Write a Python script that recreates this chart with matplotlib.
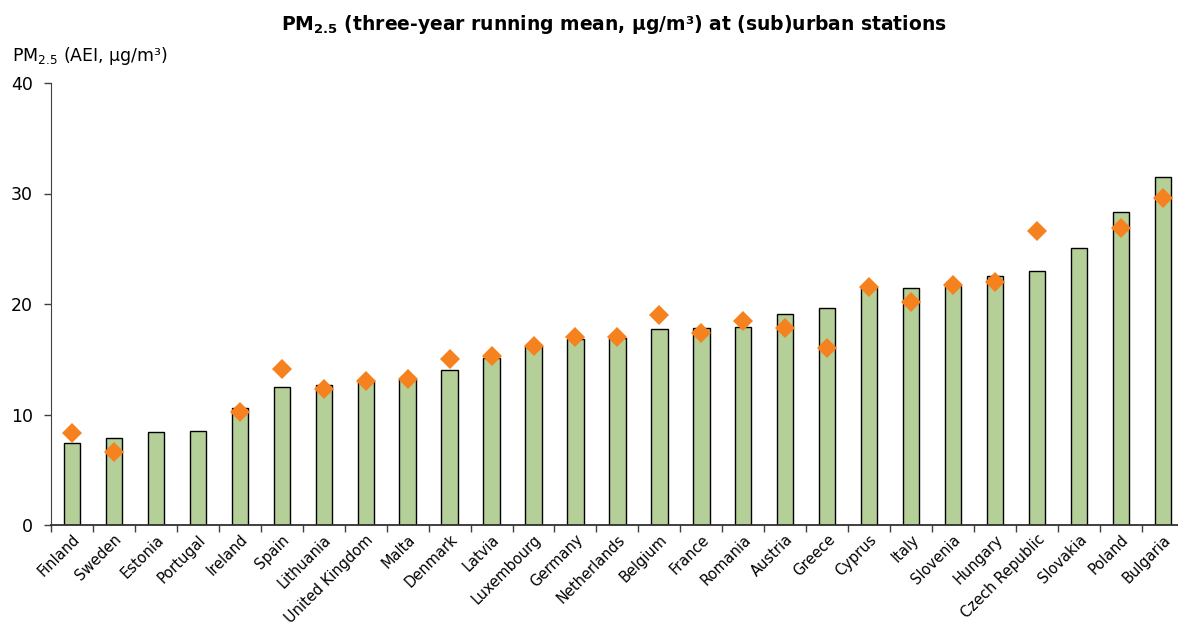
import numpy as np
import matplotlib
matplotlib.use("Agg")
import matplotlib.pyplot as plt
from matplotlib.ticker import FixedLocator

countries = ["Finland", "Sweden", "Estonia", "Portugal", "Ireland", "Spain", "Lithuania",
             "United Kingdom", "Malta", "Denmark", "Latvia", "Luxembourg", "Germany",
             "Netherlands", "Belgium", "France", "Romania", "Austria", "Greece", "Cyprus",
             "Italy", "Slovenia", "Hungary", "Czech Republic", "Slovakia", "Poland", "Bulgaria"]

# three-year running mean (bars)
running_mean = [7.4, 7.9, 8.4, 8.55, 10.6, 12.45, 12.7, 13.15, 13.2, 14.05, 15.1, 16.2, 16.8,
                16.9, 17.75, 17.85, 17.95, 19.1, 19.6, 21.5, 21.45, 21.6, 22.5, 23.0, 25.1,
                28.3, 31.5]

# AEI (diamonds), nan where no value
aei = [8.3, 6.6, np.nan, np.nan, 10.2, 14.1, 12.35, 13.0, 13.2, 15.0, 15.3, 16.2, 17.0,
       17.0, 19.0, 17.35, 18.45, 17.8, 16.0, 21.5, 20.2, 21.7, 22.0, 26.65, np.nan,
       26.9, 29.55]

W, H = 1178, 628
fig = plt.figure(figsize=(W / 100, H / 100), dpi=100)
ax = fig.add_axes([51 / W, (H - 525) / H, (W - 51) / W, 442 / H])

x = np.arange(len(countries))
ax.bar(x, running_mean, width=0.39, color="#b5cf98", edgecolor="black", linewidth=1.0, zorder=2)
ax.plot(x, aei, linestyle="none", marker="D", markersize=10.5, color="#f5821f",
        markeredgewidth=0, zorder=3)

ax.set_xlim(-0.5, 26.36)
ax.set_ylim(0, 40)
ax.set_yticks([0, 10, 20, 30, 40])
ax.tick_params(axis="y", labelsize=12.5, length=5, width=1, color="#404040", pad=8)

ax.set_xticks(x)
ax.set_xticklabels(countries, rotation=45, ha="right", rotation_mode="anchor", fontsize=10.5)
ax.tick_params(axis="x", which="major", length=0, pad=5)
ax.xaxis.set_minor_locator(FixedLocator(np.arange(-0.5, 27, 1)))
ax.tick_params(axis="x", which="minor", length=5, width=1, color="#404040")

for s in ["top", "right"]:
    ax.spines[s].set_visible(False)
ax.spines["left"].set_color("#404040")
ax.spines["bottom"].set_color("#303030")
ax.spines["bottom"].set_linewidth(1.3)

fig.text(614 / W, 1 - 24 / H,
         r"PM$_{\mathbf{2.5}}$ (three-year running mean, µg/m³) at (sub)urban stations",
         ha="center", va="center", fontsize=13.5, fontweight="bold")
fig.text(12 / W, 1 - 56 / H, r"PM$_{2.5}$ (AEI, µg/m³)", ha="left", va="center", fontsize=12.5)

fig.savefig("out.png", dpi=100)
